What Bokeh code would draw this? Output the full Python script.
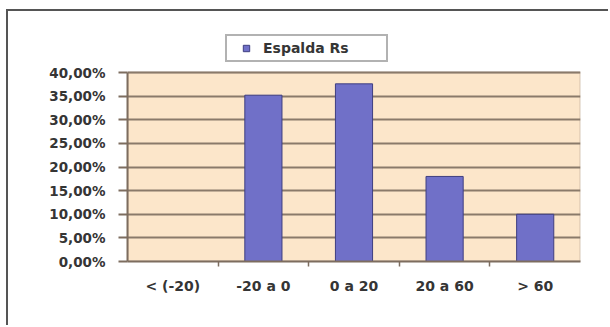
from bokeh.plotting import figure
from bokeh.models import (ColumnDataSource, FixedTicker, Legend, LegendItem,
                          Range1d, BoxAnnotation)
from bokeh.embed import file_html
from bokeh.resources import INLINE

categories = ["< (-20)", "-20 a 0", "0 a 20", "20 a 60", "> 60"]
values = [0.0, 35.2, 37.6, 18.0, 10.0]
series_name = "Espalda Rs"
y_ticks = [0, 5, 10, 15, 20, 25, 30, 35, 40]
y_tick_labels = ["0,00%", "5,00%", "10,00%", "15,00%", "20,00%",
                 "25,00%", "30,00%", "35,00%", "40,00%"]
y_max = 40

x_pos = [i + 0.5 for i in range(len(categories))]
src = ColumnDataSource(dict(x=x_pos, top=values, cat=categories))

# page layout: outer frame border at (6, 9); canvas starts at (8, 11)
OX, OY = 8, 11
frame_left, frame_right = 127, 580      # page px
frame_top, axis_bottom = 30, 261        # page px (frame extends above 40% for the legend)
top40 = 72                              # page px of the 40% line
y_top = (axis_bottom - frame_top) / (axis_bottom - top40) * y_max

FONT = "DejaVu Sans"
TXT = "#353535"
BROWN = "#7d6d5f"
BAR = "#7070C8"
BAR_LINE = "#3e3e80"

p = figure(width=610 - OX, height=327 - OY, output_backend="svg", toolbar_location=None,
           x_range=Range1d(0, len(categories)), y_range=Range1d(0, y_top),
           min_border_left=frame_left - OX, min_border_right=610 - frame_right,
           min_border_top=frame_top - OY, min_border_bottom=327 - axis_bottom,
           styles={"margin-left": "6px", "margin-top": "9px",
                   "border-left": "2px solid #555555",
                   "border-top": "2px solid #555555"})
p.background_fill_color = "white"
p.border_fill_color = "white"
p.outline_line_color = None

# plot area (0..40%) background and outline
p.add_layout(BoxAnnotation(left=0, right=len(categories), bottom=0, top=y_max,
                           fill_color="#FCE6CA", fill_alpha=1,
                           line_color=BROWN, line_width=2, level="image"))

r = p.vbar(x="x", top="top", width=0.41, source=src, fill_color=BAR,
           line_color=BAR_LINE, line_width=1)

# axes
p.xaxis.ticker = FixedTicker(ticks=x_pos, minor_ticks=list(range(1, len(categories))))
p.xaxis.major_label_overrides = {x: c for x, c in zip(x_pos, categories)}
p.xaxis.major_tick_line_color = None
p.xaxis.minor_tick_line_color = BROWN
p.xaxis.minor_tick_line_width = 1.5
p.xaxis.minor_tick_in = 0
p.xaxis.minor_tick_out = 5
p.xaxis.axis_line_color = BROWN
p.xaxis.axis_line_width = 2
p.xaxis.major_label_text_font = FONT
p.xaxis.major_label_text_font_style = "bold"
p.xaxis.major_label_text_font_size = "14px"
p.xaxis.major_label_text_color = TXT
p.xaxis.major_label_standoff = 10

p.yaxis.ticker = FixedTicker(ticks=y_ticks, minor_ticks=[])
p.yaxis.bounds = (0, y_max)
p.yaxis.major_label_overrides = {t: l for t, l in zip(y_ticks, y_tick_labels)}
p.yaxis.axis_line_color = BROWN
p.yaxis.axis_line_width = 2
p.yaxis.major_tick_line_color = BROWN
p.yaxis.major_tick_line_width = 2
p.yaxis.major_tick_in = 0
p.yaxis.major_tick_out = 9
p.yaxis.minor_tick_line_color = None
p.yaxis.major_label_text_font = FONT
p.yaxis.major_label_text_font_style = "bold"
p.yaxis.major_label_text_font_size = "13.5px"
p.yaxis.major_label_text_color = TXT
p.yaxis.major_label_standoff = 13

p.xgrid.grid_line_color = None
p.ygrid.grid_line_color = "#8a7a6a"
p.ygrid.grid_line_width = 2

# legend: zero-size square markers (invisible in the plot), sized by the legend box
proxy = p.scatter(x="x", y="top", source=src, marker="square", size=0,
                  fill_color=BAR, line_color=BAR_LINE, line_width=1)
legend = Legend(items=[LegendItem(label=series_name, renderers=[proxy])],
                location=(225 - frame_left, axis_bottom - 62), orientation="horizontal")
legend.label_text_font = FONT
legend.label_text_font_style = "bold"
legend.label_text_font_size = "14px"
legend.label_text_color = TXT
legend.glyph_width = 30
legend.glyph_height = 16
legend.label_height = 16
legend.label_width = 119
legend.label_standoff = 2
legend.border_line_color = "#666666"
legend.border_line_width = 2
legend.background_fill_color = "white"
legend.background_fill_alpha = 1
legend.padding = 4
legend.margin = 0
p.add_layout(legend, "center")

open("out.html", "w").write(file_html(p, INLINE))
